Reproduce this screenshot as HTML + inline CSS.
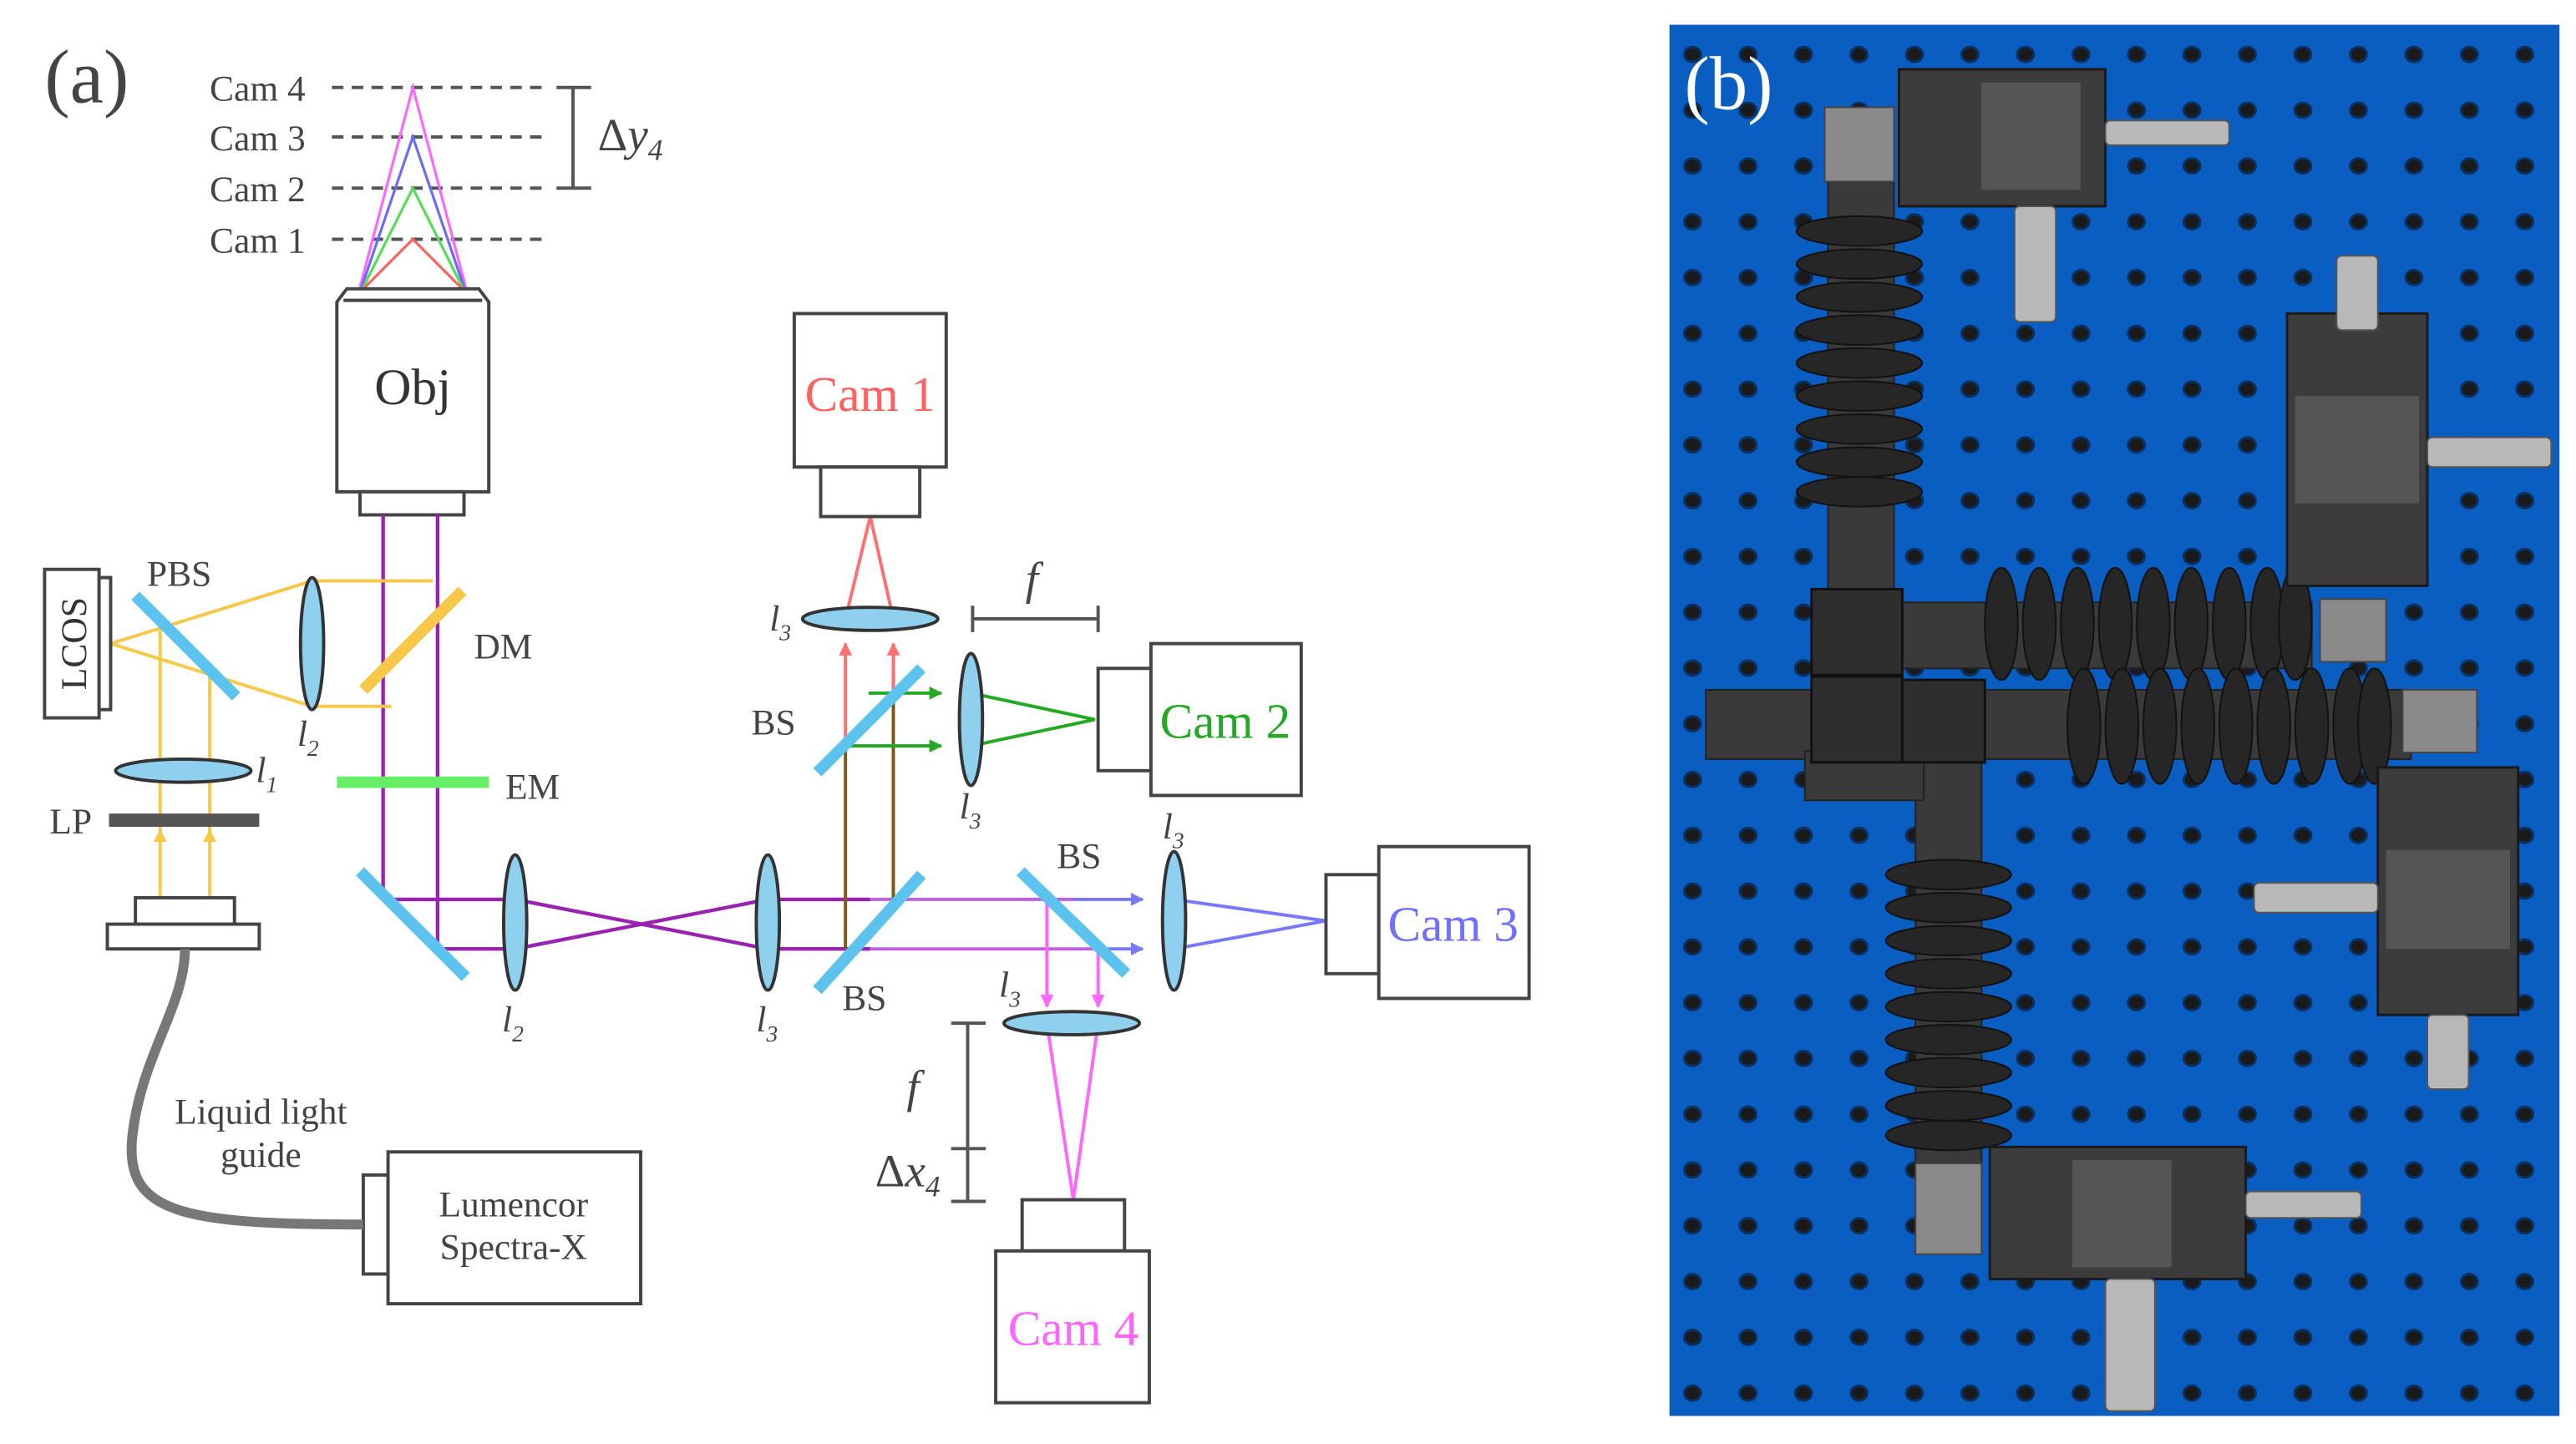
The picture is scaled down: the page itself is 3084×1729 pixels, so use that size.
<!DOCTYPE html>
<html><head><meta charset="utf-8"><style>
html,body{margin:0;padding:0;background:#fff;}
svg{display:block;}
text{font-family:"Liberation Serif",serif;}
</style></head><body>
<svg width="3084" height="1729" viewBox="0 0 1560 875" preserveAspectRatio="none" xmlns="http://www.w3.org/2000/svg">
<defs>
<marker id="ar2" viewBox="0 0 10 10" refX="9" refY="5" markerWidth="4" markerHeight="4" orient="auto"><path d="M0,0 L10,5 L0,10 z" fill="#ff7070"/></marker>
<marker id="ag" viewBox="0 0 10 10" refX="9" refY="5" markerWidth="4" markerHeight="4" orient="auto"><path d="M0,0 L10,5 L0,10 z" fill="#22aa22"/></marker>
<marker id="ab" viewBox="0 0 10 10" refX="9" refY="5" markerWidth="4" markerHeight="4" orient="auto"><path d="M0,0 L10,5 L0,10 z" fill="#7878ff"/></marker>
<marker id="ap" viewBox="0 0 10 10" refX="9" refY="5" markerWidth="4" markerHeight="4" orient="auto"><path d="M0,0 L10,5 L0,10 z" fill="#ff66ff"/></marker>
<marker id="ay" viewBox="0 0 10 10" refX="9" refY="5" markerWidth="4" markerHeight="4" orient="auto"><path d="M0,0 L10,5 L0,10 z" fill="#f8c848"/></marker>
<pattern id="holes" x="1008" y="16" width="33.6" height="33.8" patternUnits="userSpaceOnUse">
<ellipse cx="17" cy="17" rx="5" ry="4.5" fill="#1a1a1a" stroke="#0a3060" stroke-width="1.5"/>
</pattern>
</defs>

<!-- ===== Panel a ===== -->
<text x="27" y="62" font-size="46" fill="#444">(a)</text>
<g font-size="22" fill="#444">
<text x="127" y="61">Cam 4</text>
<text x="127" y="91">Cam 3</text>
<text x="127" y="122">Cam 2</text>
<text x="127" y="153">Cam 1</text>
</g>
<g stroke="#555" stroke-width="2" stroke-dasharray="7,5">
<line x1="201" y1="53" x2="330" y2="53"/>
<line x1="201" y1="83" x2="330" y2="83"/>
<line x1="201" y1="114" x2="330" y2="114"/>
<line x1="201" y1="145" x2="330" y2="145"/>
</g>
<g stroke="#555" stroke-width="2">
<line x1="347" y1="53" x2="347" y2="114"/>
<line x1="337" y1="53" x2="358" y2="53"/>
<line x1="337" y1="114" x2="358" y2="114"/>
</g>
<text x="362" y="91" font-size="28" fill="#444">Δ<tspan font-style="italic">y</tspan><tspan font-size="18" dy="6" font-style="italic">4</tspan></text>
<g fill="none" stroke-width="1.6">
<polyline points="218,174 250,53 282,174" stroke="#ff66ff"/>
<polyline points="219,174 250,83 281,174" stroke="#6a6aff"/>
<polyline points="220,174 250,114 280,174" stroke="#55dd55"/>
<polyline points="221,174 250,145 279,174" stroke="#ff6060"/>
</g>
<g fill="#fff" stroke="#444" stroke-width="2">
<path d="M210,175 L290,175 L296,183 L296,298 L204,298 L204,183 Z"/>
<line x1="208" y1="182" x2="292" y2="182"/>
<rect x="218" y="298" width="63" height="14"/>
</g>
<text x="250" y="245" font-size="31" text-anchor="middle" fill="#333">Obj</text>
<g stroke="#9a22b0" stroke-width="2.2" fill="none">
<line x1="232" y1="312" x2="232" y2="545"/>
<line x1="265" y1="312" x2="265" y2="575"/>
<line x1="232" y1="545" x2="312" y2="545"/>
<line x1="265" y1="575" x2="312" y2="575"/>
<line x1="312" y1="545" x2="465" y2="575"/>
<line x1="312" y1="575" x2="465" y2="545"/>
<line x1="465" y1="545" x2="527" y2="545"/>
<line x1="465" y1="575" x2="527" y2="575"/>
</g>
<g stroke="#c060e0" stroke-width="2" fill="none">
<line x1="527" y1="545" x2="650" y2="545"/>
<line x1="527" y1="575" x2="666" y2="575"/>
</g>
<g stroke="#7878ff" stroke-width="2" fill="none">
<line x1="650" y1="545" x2="692" y2="545" marker-end="url(#ab)"/>
<line x1="666" y1="575" x2="692" y2="575" marker-end="url(#ab)"/>
<polyline points="711,545 803,558 711,575"/>
</g>
<g stroke="#7a5a18" stroke-width="2">
<line x1="512" y1="575" x2="512" y2="452"/>
<line x1="541" y1="545" x2="541" y2="420"/>
</g>
<g stroke="#22aa22" stroke-width="2" fill="none">
<line x1="526" y1="420" x2="570" y2="420" marker-end="url(#ag)"/>
<line x1="512" y1="452" x2="570" y2="452" marker-end="url(#ag)"/>
<polyline points="588,420 663,436 588,452"/>
</g>
<g stroke="#ff7070" stroke-width="2" fill="none">
<line x1="512" y1="452" x2="512" y2="390" marker-end="url(#ar2)"/>
<line x1="541" y1="420" x2="541" y2="390" marker-end="url(#ar2)"/>
<polyline points="512,375 527,313 541,375"/>
</g>
<g stroke="#ff66ff" stroke-width="2" fill="none">
<line x1="634" y1="545" x2="634" y2="610" marker-end="url(#ap)"/>
<line x1="665" y1="575" x2="665" y2="610" marker-end="url(#ap)"/>
<polyline points="634,620 650,727 665,620"/>
</g>
<g stroke="#f8c848" stroke-width="2" fill="none">
<polyline points="189,352 67,390 189,428"/>
<line x1="189" y1="352" x2="262" y2="352"/>
<line x1="189" y1="428" x2="237" y2="428"/>
<line x1="97" y1="544" x2="97" y2="503" marker-end="url(#ay)"/>
<line x1="127" y1="544" x2="127" y2="503" marker-end="url(#ay)"/>
<line x1="97" y1="505" x2="97" y2="378"/>
<line x1="127" y1="505" x2="127" y2="408"/>
</g>
<g stroke="#5cc3ee" stroke-width="7" stroke-linecap="butt">
<line x1="218" y1="528" x2="282" y2="592"/>
<line x1="495" y1="600" x2="558" y2="530"/>
<line x1="495" y1="468" x2="558" y2="405"/>
<line x1="618" y1="528" x2="682" y2="590"/>
<line x1="82" y1="361" x2="143" y2="422"/>
</g>
<line x1="220" y1="418" x2="280" y2="358" stroke="#f8c848" stroke-width="7"/>
<line x1="204" y1="474" x2="296" y2="474" stroke="#66ee66" stroke-width="7"/>
<line x1="66" y1="497" x2="157" y2="497" stroke="#555" stroke-width="8"/>
<g fill="#8fd0ee" stroke="#333" stroke-width="2">
<ellipse cx="312" cy="559" rx="7" ry="41"/>
<ellipse cx="465" cy="559" rx="7" ry="41"/>
<ellipse cx="711" cy="558" rx="7" ry="42"/>
<ellipse cx="588" cy="436" rx="7" ry="40"/>
<ellipse cx="527" cy="375" rx="41" ry="7"/>
<ellipse cx="649" cy="620" rx="41" ry="7"/>
<ellipse cx="189" cy="390" rx="7" ry="40"/>
<ellipse cx="111" cy="467" rx="41" ry="7"/>
</g>
<g fill="#fff" stroke="#444" stroke-width="2">
<rect x="481" y="190" width="92" height="93"/>
<rect x="497" y="283" width="60" height="30"/>
<rect x="665" y="405" width="32" height="62"/>
<rect x="697" y="390" width="91" height="92"/>
<rect x="803" y="530" width="32" height="60"/>
<rect x="835" y="513" width="91" height="92"/>
<rect x="619" y="727" width="62" height="31"/>
<rect x="603" y="758" width="93" height="92"/>
<rect x="27" y="345" width="33" height="90"/>
<rect x="60" y="350" width="7" height="80"/>
<rect x="82" y="544" width="60" height="16"/>
<rect x="65" y="560" width="92" height="15"/>
<rect x="220" y="712" width="15" height="60"/>
<rect x="235" y="698" width="153" height="92"/>
</g>
<path d="M112,575 C112,610 85,640 80,690 C76,735 110,742 220,742" fill="none" stroke="#777" stroke-width="6"/>
<g font-size="30">
<text x="527" y="249" text-anchor="middle" fill="#ff6060">Cam 1</text>
<text x="742" y="447" text-anchor="middle" fill="#22aa22">Cam 2</text>
<text x="880" y="570" text-anchor="middle" fill="#7070ff">Cam 3</text>
<text x="650" y="815" text-anchor="middle" fill="#ff66ff">Cam 4</text>
</g>
<text x="52" y="390" font-size="22" text-anchor="middle" transform="rotate(-90 52 390)" fill="#333">LCOS</text>
<g font-size="22" fill="#444">
<text x="89" y="355">PBS</text>
<text x="287" y="399">DM</text>
<text x="306" y="484">EM</text>
<text x="30" y="505">LP</text>
<text x="455" y="445">BS</text>
<text x="640" y="526">BS</text>
<text x="510" y="612">BS</text>
<text x="158" y="681" text-anchor="middle">Liquid light</text>
<text x="158" y="707" text-anchor="middle">guide</text>
<text x="311" y="737" text-anchor="middle">Lumencor</text>
<text x="311" y="763" text-anchor="middle">Spectra-X</text>
</g>
<g font-size="22" font-style="italic" fill="#444">
<text x="180" y="452">l<tspan font-size="14" dy="6">2</tspan></text>
<text x="155" y="474">l<tspan font-size="14" dy="6">1</tspan></text>
<text x="304" y="625">l<tspan font-size="14" dy="6">2</tspan></text>
<text x="458" y="625">l<tspan font-size="14" dy="6">3</tspan></text>
<text x="466" y="382">l<tspan font-size="14" dy="6">3</tspan></text>
<text x="581" y="496">l<tspan font-size="14" dy="6">3</tspan></text>
<text x="704" y="508">l<tspan font-size="14" dy="6">3</tspan></text>
<text x="605" y="604">l<tspan font-size="14" dy="6">3</tspan></text>
<text x="621" y="360" font-size="28">f</text>
<text x="549" y="668" font-size="28">f</text>
</g>
<text x="530" y="719" font-size="28" fill="#444">Δ<tspan font-style="italic">x</tspan><tspan font-size="18" dy="6" font-style="italic">4</tspan></text>
<g stroke="#555" stroke-width="2">
<line x1="589" y1="375" x2="665" y2="375"/>
<line x1="589" y1="367" x2="589" y2="383"/>
<line x1="665" y1="367" x2="665" y2="383"/>
<line x1="586" y1="620" x2="586" y2="728"/>
<line x1="576" y1="620" x2="597" y2="620"/>
<line x1="576" y1="696" x2="597" y2="696"/>
<line x1="576" y1="728" x2="597" y2="728"/>
</g>

<!-- ===== Panel b ===== -->
<rect x="1011" y="15" width="539" height="843" fill="#0a5ec2"/>
<rect x="1011" y="15" width="539" height="843" fill="url(#holes)"/>
<g fill="#3a3a3a" stroke="#222" stroke-width="1">
<rect x="1107" y="110" width="40" height="260"/>
<rect x="1033" y="418" width="75" height="42"/>
<rect x="1150" y="365" width="250" height="40"/>
<rect x="1200" y="418" width="260" height="42"/>
<rect x="1160" y="460" width="40" height="250"/>
<rect x="1093" y="455" width="72" height="30"/>
</g>
<g fill="#262626" stroke="#111" stroke-width="1">
<ellipse cx="1126" cy="140" rx="38" ry="9"/><ellipse cx="1126" cy="160" rx="38" ry="9"/><ellipse cx="1126" cy="180" rx="38" ry="9"/><ellipse cx="1126" cy="200" rx="38" ry="9"/><ellipse cx="1126" cy="220" rx="38" ry="9"/><ellipse cx="1126" cy="240" rx="38" ry="9"/><ellipse cx="1126" cy="260" rx="38" ry="9"/><ellipse cx="1126" cy="280" rx="38" ry="9"/><ellipse cx="1126" cy="298" rx="38" ry="9"/>
<ellipse cx="1180" cy="530" rx="38" ry="9"/><ellipse cx="1180" cy="550" rx="38" ry="9"/><ellipse cx="1180" cy="570" rx="38" ry="9"/><ellipse cx="1180" cy="590" rx="38" ry="9"/><ellipse cx="1180" cy="610" rx="38" ry="9"/><ellipse cx="1180" cy="630" rx="38" ry="9"/><ellipse cx="1180" cy="650" rx="38" ry="9"/><ellipse cx="1180" cy="670" rx="38" ry="9"/><ellipse cx="1180" cy="688" rx="38" ry="9"/>
<ellipse cx="1212" cy="378" rx="10" ry="34"/><ellipse cx="1235" cy="378" rx="10" ry="34"/><ellipse cx="1258" cy="378" rx="10" ry="34"/><ellipse cx="1281" cy="378" rx="10" ry="34"/><ellipse cx="1304" cy="378" rx="10" ry="34"/><ellipse cx="1327" cy="378" rx="10" ry="34"/><ellipse cx="1350" cy="378" rx="10" ry="34"/><ellipse cx="1373" cy="378" rx="10" ry="34"/><ellipse cx="1390" cy="378" rx="10" ry="34"/>
<ellipse cx="1262" cy="440" rx="10" ry="35"/><ellipse cx="1285" cy="440" rx="10" ry="35"/><ellipse cx="1308" cy="440" rx="10" ry="35"/><ellipse cx="1331" cy="440" rx="10" ry="35"/><ellipse cx="1354" cy="440" rx="10" ry="35"/><ellipse cx="1377" cy="440" rx="10" ry="35"/><ellipse cx="1400" cy="440" rx="10" ry="35"/><ellipse cx="1423" cy="440" rx="10" ry="35"/><ellipse cx="1438" cy="440" rx="10" ry="35"/>
</g>
<g fill="#2e2e2e" stroke="#111" stroke-width="1.5">
<rect x="1097" y="357" width="55" height="52"/>
<rect x="1097" y="410" width="55" height="52"/>
<rect x="1152" y="412" width="50" height="50"/>
</g>
<g fill="#8a8a8a" stroke="#444" stroke-width="1">
<rect x="1105" y="65" width="42" height="45"/>
<rect x="1405" y="363" width="40" height="38"/>
<rect x="1455" y="418" width="45" height="38"/>
<rect x="1160" y="705" width="40" height="55"/>
</g>
<g fill="#3c3c3c" stroke="#1a1a1a" stroke-width="1.5">
<rect x="1150" y="42" width="125" height="83"/>
<rect x="1385" y="190" width="85" height="165"/>
<rect x="1440" y="465" width="85" height="150"/>
<rect x="1205" y="695" width="155" height="80"/>
</g>
<g fill="#555">
<rect x="1200" y="50" width="60" height="65"/>
<rect x="1390" y="240" width="75" height="65"/>
<rect x="1445" y="515" width="75" height="60"/>
<rect x="1255" y="703" width="60" height="65"/>
</g>
<g fill="#b8b8b8" stroke="#555" stroke-width="1">
<rect x="1275" y="73" width="75" height="15" rx="3"/>
<rect x="1220" y="125" width="25" height="70" rx="3"/>
<rect x="1415" y="155" width="25" height="45" rx="3"/>
<rect x="1470" y="265" width="75" height="18" rx="3"/>
<rect x="1365" y="535" width="75" height="18" rx="3"/>
<rect x="1470" y="615" width="25" height="45" rx="3"/>
<rect x="1360" y="722" width="70" height="16" rx="3"/>
<rect x="1275" y="775" width="30" height="80" rx="3"/>
</g>
<text x="1020" y="66" font-size="46" fill="#fff">(b)</text>
</svg>
</body></html>
